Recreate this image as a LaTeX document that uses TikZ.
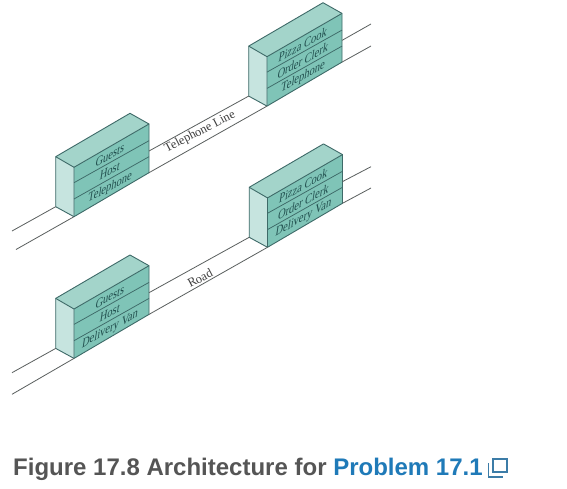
\documentclass[tikz,border=0pt]{standalone}
\usepackage{fontspec}
\setmainfont{Liberation Serif}
\newfontfamily\capfont{Liberation Sans}
\definecolor{frontc}{HTML}{7FC4B7}
\definecolor{topc}{HTML}{A3D4CA}
\definecolor{sidec}{HTML}{C6E4DF}
\definecolor{edgec}{HTML}{3E6A68}
\definecolor{wirec}{HTML}{5A5F5E}
\definecolor{inkc}{HTML}{22504F}
\definecolor{capgray}{HTML}{555555}
\definecolor{capblue}{HTML}{1F7AB8}
\tikzset{
  wire/.style={draw=wirec,line width=.8pt},
  face/.style={draw=edgec,line width=.9pt,line join=round},
  divider/.style={draw=edgec,line width=.75pt},
  slot/.style={font=\fontsize{10.5}{10.5}\selectfont,text=inkc,inner sep=0pt,cm={1,.56,.2,1.3,(0,0)},transform shape},
  wirelabel/.style={font=\fontsize{12.5}{13}\selectfont,text=black!75,inner sep=0pt,rotate=27.5},
}
\newcommand{\stackbox}[6]{%
  \begin{scope}[shift={(#2,#3)}]
    \coordinate (#1lt) at (55.7,156.7);
    \coordinate (#1lb) at (55.7,206.7);
    \coordinate (#1ft) at (74,167.3);
    \coordinate (#1fb) at (74,216.7);
    \coordinate (#1rt) at (149,124);
    \coordinate (#1rb) at (149,172.7);
    \coordinate (#1bt) at (130,113.3);
    \coordinate (#1ru) at (149,151);
    \fill[frontc] (#1ft) -- (#1rt) -- (#1rb) -- (#1fb) -- cycle;
    \fill[sidec] (#1lt) -- (#1ft) -- (#1fb) -- (#1lb) -- cycle;
    \fill[topc] (#1lt) -- (#1bt) -- (#1rt) -- (#1ft) -- cycle;
    \draw[face] (#1lt) -- (#1bt) -- (#1rt) -- (#1rb) -- (#1fb) -- (#1lb) -- cycle;
    \draw[face] (#1lt) -- (#1ft) -- (#1fb) (#1ft) -- (#1rt);
    \coordinate (#1da) at (74,182.7);
    \coordinate (#1db) at (149,140.7);
    \coordinate (#1dc) at (74,199);
    \coordinate (#1dd) at (149,156.7);
    \draw[divider] (#1da) -- (#1db) (#1dc) -- (#1dd);
    \node[slot] (#1one) at (110,155) {#4};
    \node[slot] (#1two) at (110,171) {#5};
    \node[slot] (#1three) at (110,187.5) {#6};
  \end{scope}}
\begin{document}
\begin{tikzpicture}[x=1pt,y=-1pt]
\useasboundingbox[fill=white] (0,0) rectangle (567,489);
% free wire ends
\coordinate (aul) at (12,231);
\coordinate (all) at (16,249.5);
\coordinate (bur) at (371,24);
\coordinate (blr) at (371,46);
\coordinate (cul) at (12,372.7);
\coordinate (cll) at (12,394.3);
\coordinate (dur) at (371,166.7);
\coordinate (dlr) at (371,188);
\stackbox{a}{0}{0}{Guests}{Host}{Telephone}
\stackbox{b}{193}{-110.6}{Pizza Cook}{Order Clerk}{Telephone}
\stackbox{c}{0}{141.7}{Guests}{Host}{Delivery Van}
\stackbox{d}{193.5}{30.6}{Pizza Cook}{Order Clerk}{Delivery Van}
\draw[wire] (aul) -- (alb);
\draw[wire] (all) -- (afb);
\draw[wire] (aru) -- (blb);
\draw[wire] (arb) -- (bfb);
\draw[wire] (bru) -- (bur);
\draw[wire] (brb) -- (blr);
\draw[wire] (cul) -- (clb);
\draw[wire] (cll) -- (cfb);
\draw[wire] (cru) -- (dlb);
\draw[wire] (crb) -- (dfb);
\draw[wire] (dru) -- (dur);
\draw[wire] (drb) -- (dlr);
\node[wirelabel] (tl) at (200,132) {Telephone Line};
\node[wirelabel] (rd) at (200,278) {Road};
\node[anchor=base west,inner sep=0pt,font=\capfont\bfseries\fontsize{24}{25}\selectfont] (cap) at (13,475)
  {\textcolor{capgray}{Figure 17.8 Architecture for }\textcolor{capblue}{Problem 17.1}};
% link icon
\draw[capblue!70!gray,line width=1.3pt] (493,459) rectangle (507,472);
\draw[capblue!70!gray,line width=1.3pt] (488.5,463) -- (488.5,477) -- (503,477);
\end{tikzpicture}
\end{document}
